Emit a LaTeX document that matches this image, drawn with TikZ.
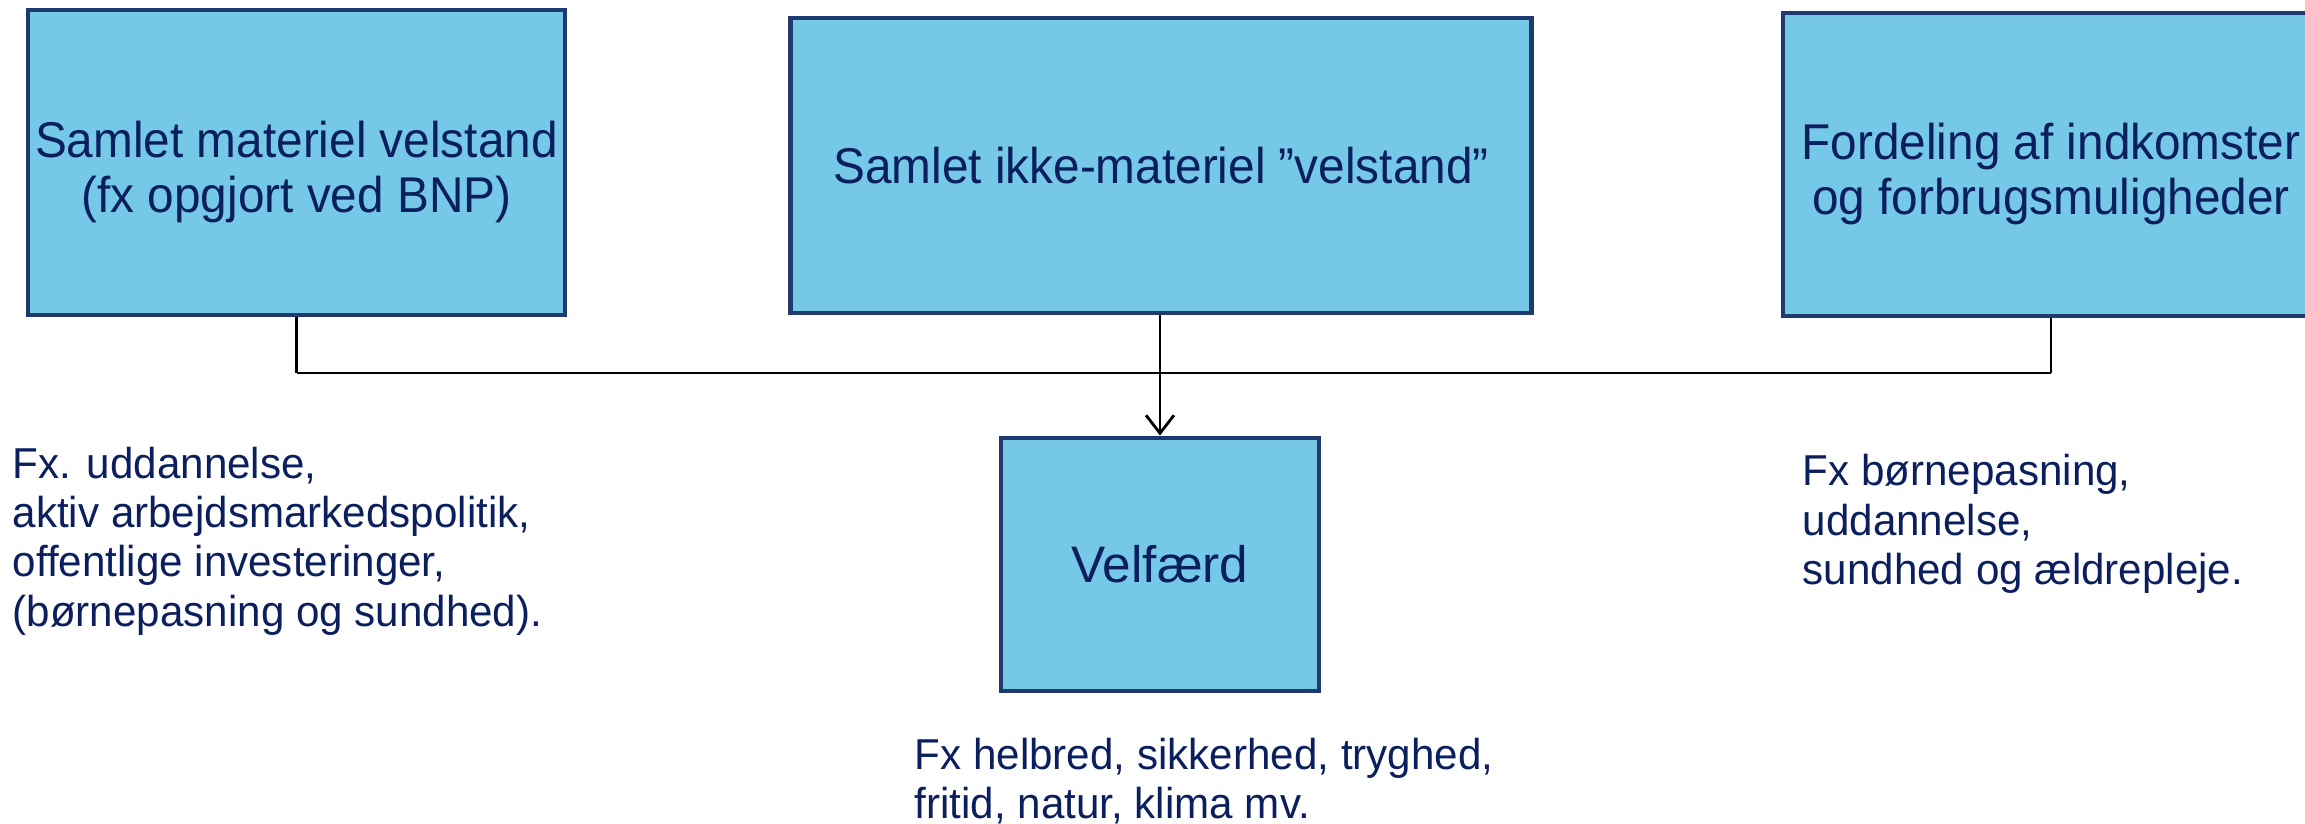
\documentclass[tikz,border=0pt]{standalone}
\usepackage{fontspec}
\setmainfont{Liberation Sans}
\newfontfamily\boxfont[FakeStretch=0.95]{Liberation Sans}
\newfontfamily\notefont[FakeStretch=0.975]{Liberation Sans}
\usetikzlibrary{arrows.meta}
\definecolor{boxfill}{HTML}{75C8E6}
\definecolor{boxline}{HTML}{1F3A6E}
\definecolor{textnavy}{HTML}{0B1F5E}
\begin{document}
\begin{tikzpicture}[
  box/.style={shape=rectangle, draw=boxline, line width=1.4pt, fill=boxfill, inner sep=0pt, align=center, text=textnavy, font=\boxfont\fontsize{14.3}{15.6}\selectfont},
  note/.style={anchor=west, align=left, inner sep=0pt, text=textnavy, font=\notefont\fontsize{12.3}{14.05}\selectfont},
  link/.style={-, line width=0.8pt, draw=black}]
\clip (0,0) rectangle (23.05,8.24);
\fill[white] (0,0) rectangle (23.05,8.24);
\node[box, minimum width=5.37cm, minimum height=3.05cm] (mat) at (2.965,6.615) {\rule{0pt}{0.56cm}Samlet materiel velstand\\(fx opgjort ved BNP)};
\node[box, minimum width=7.41cm, minimum height=2.95cm] (ikke) at (11.61,6.585) {Samlet ikke-materiel ”velstand”};
\node[box, minimum width=5.36cm, minimum height=3.03cm] (ford) at (20.51,6.595) {\rule{0pt}{0.56cm}Fordeling af indkomster\\og forbrugsmuligheder};
\node[box, minimum width=3.18cm, minimum height=2.53cm, font=\fontsize{14.6}{17}\selectfont] (velf) at (11.6,2.595) {Velfærd};
\node[note] (fxl) at (0.12,2.83) {Fx. uddannelse,\\aktiv arbejdsmarkedspolitik,\\offentlige investeringer,\\(børnepasning og sundhed).};
\node[note] (fxr) at (18.02,3.0) {Fx børnepasning,\\uddannelse,\\sundhed og ældrepleje.};
\node[note] (fxb) at (9.14,0.43) {Fx helbred, sikkerhed, tryghed,\\fritid, natur, klima mv.};
\coordinate (jl) at (2.965,4.51);
\coordinate (jr) at (20.51,4.51);
\path [link] (mat.south) edge (jl);
\path [link] (jl) edge (jr);
\path [link] (ford.south) edge (jr);
\draw [-{Straight Barb[length=1.8mm, width=2.8mm]}, line width=0.8pt, draw=black] (ikke.south -| velf.north) -- (velf.north);
\end{tikzpicture}
\end{document}
